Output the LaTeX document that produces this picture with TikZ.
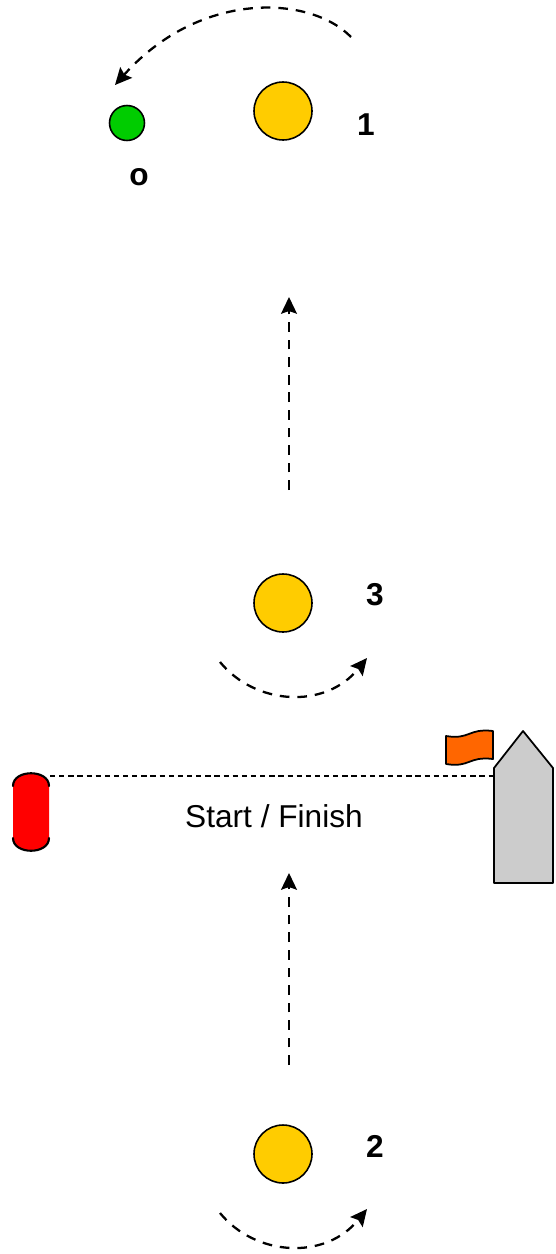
\documentclass[tikz,border=0pt]{standalone}
\usepackage{fontspec}
\setmainfont{Liberation Sans}
\usetikzlibrary{arrows.meta}
\definecolor{buoyyellow}{RGB}{255,204,0}
\definecolor{buoygreen}{RGB}{0,204,0}
\definecolor{flagorange}{RGB}{255,102,0}
\definecolor{boatgray}{RGB}{204,204,204}
\begin{document}
\begin{tikzpicture}[x=0.02cm,y=-0.02cm,line join=round,line cap=round,>={Stealth[length=9.5pt,width=9pt,inset=1.5pt]},
	buoy/.style={circle,draw,line width=0.9pt,fill=buoyyellow,minimum size=1.16cm,inner sep=0pt},
	smallbuoy/.style={circle,draw,line width=0.9pt,fill=buoygreen,minimum size=0.7cm,inner sep=0pt},
	num/.style={anchor=base,inner sep=0pt,font=\fontsize{18}{22}\selectfont\bfseries},
	course/.style={->,line width=1.3pt,line cap=butt,dash pattern=on 5.5pt off 4.5pt}]
	\useasboundingbox (0,0) rectangle (555,1254);
	% buoys and labels
	\node[smallbuoy] (o) at (127,123) {};
	\node[buoy] (m1) at (283,111) {};
	\node[buoy] (m3) at (283,603) {};
	\node[buoy] (m2) at (283,1154) {};
	\node[num] (lo) at (139,185) {o};
	\node[num] (l1) at (366,135) {1};
	\node[num] (l3) at (375,605) {3};
	\node[num] (l2) at (375,1157) {2};
	\node[anchor=base,inner sep=0pt,font=\fontsize{18}{22}\selectfont] (sf) at (274,827) {Start / Finish};
	% course
	\coordinate (t1) at (351,37);
	\coordinate (t2) at (115,85);
	\draw[course] (t1) .. controls (310,-5) and (200,-10) .. (t2);
	\coordinate (u1) at (289,490);
	\coordinate (u2) at (289,297);
	\draw[course] (u1) -- (u2);
	\coordinate (v1) at (289,1065);
	\coordinate (v2) at (289,873);
	\draw[course] (v1) -- (v2);
	\coordinate (r1) at (220,662);
	\coordinate (r2) at (367,658);
	\draw[course] (r1) .. controls (255,705) and (325,710) .. (r2);
	\coordinate (s1) at (220,1213);
	\coordinate (s2) at (367,1209);
	\draw[course] (s1) .. controls (255,1256) and (325,1261) .. (s2);
	% start line
	\coordinate (pin) at (50,776);
	\coordinate (boatside) at (494,776);
	\draw[line width=1pt,line cap=butt,dash pattern=on 3pt off 2.2pt] (pin) -- (boatside);
	\fill[red] (13,786) .. controls (13,769) and (49,769) .. (49,786) -- (49,838)
		.. controls (49,855) and (13,855) .. (13,838) -- cycle;
	\draw[line width=1.2pt] (13,786) .. controls (13,769) and (49,769) .. (49,786);
	\draw[line width=1.2pt] (13,838) .. controls (13,855) and (49,855) .. (49,838);
	\draw[line width=1pt,fill=boatgray] (494,768) -- (523,731) -- (553,768) -- (553,883) -- (494,883) -- cycle;
	\draw[line width=1pt,fill=flagorange] (446,736) .. controls (470,740) and (468,728) .. (493,731)
		-- (493,759) .. controls (468,756) and (470,768) .. (446,764) -- cycle;
\end{tikzpicture}
\end{document}
